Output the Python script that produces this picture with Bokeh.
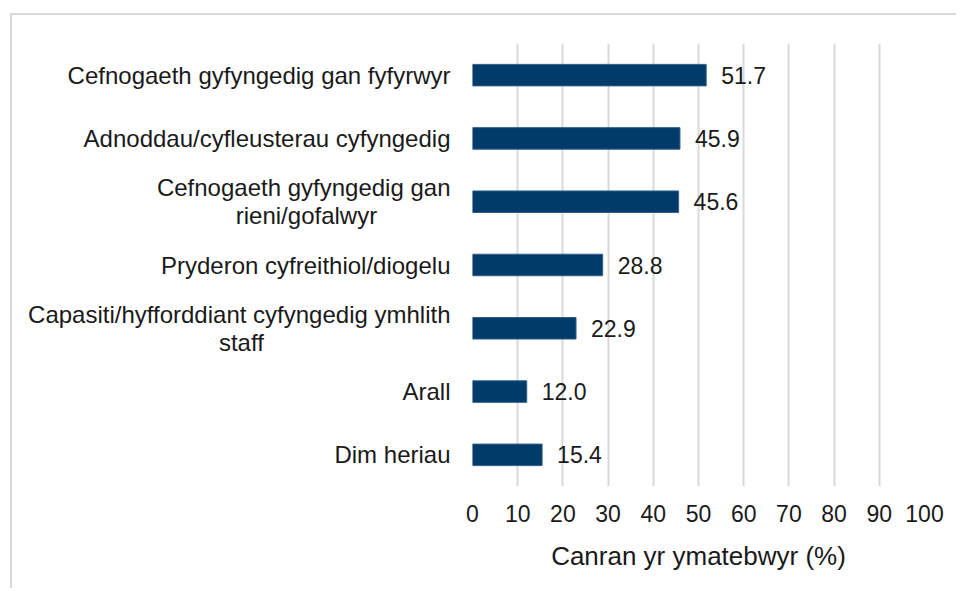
from bokeh.plotting import figure
from bokeh.models import ColumnDataSource, FactorRange, Range1d, FixedTicker
from bokeh.core.properties import value
from bokeh.embed import file_html
from bokeh.resources import INLINE

NB = "\u00a0"
categories = [
    "Cefnogaeth gyfyngedig gan fyfyrwyr",
    "Adnoddau/cyfleusterau cyfyngedig",
    "Cefnogaeth gyfyngedig gan\nrieni/gofalwyr" + NB * 11,
    "Pryderon cyfreithiol/diogelu",
    "Capasiti/hyfforddiant cyfyngedig ymhlith\nstaff" + NB * 28,
    "Arall",
    "Dim heriau",
]
values = [51.7, 45.9, 45.6, 28.8, 22.9, 12.0, 15.4]
x_ticks = [0, 10, 20, 30, 40, 50, 60, 70, 80, 90, 100]
x_title = "Canran yr ymatebwyr (%)"

FONT = "Liberation Sans"
TXT = "#1a1a1a"
BAR = "#003B6A"
GRID = "#d9d9d9"

src = ColumnDataSource(dict(cat=categories, val=values,
                            lab=[f"{v:.1f}" for v in values]))

p = figure(
    width=946, height=575,
    y_range=FactorRange(factors=list(reversed(categories)), range_padding=0),
    x_range=Range1d(0, 100),
    output_backend="svg", toolbar_location=None,
    min_border_left=460, min_border_right=34,
    min_border_top=28, min_border_bottom=104,
)
p.styles = {"margin-left": "10px", "margin-top": "13px",
            "border-left": "2px solid #d9d9d9", "border-top": "2px solid #d9d9d9"}
p.outline_line_color = None

p.hbar(y="cat", right="val", left=0, height=0.34, source=src,
       fill_color=BAR, line_color="#2f5f8a", line_width=1)
p.text(x="val", y="cat", text="lab", source=src, x_offset=15,
       text_baseline="middle", text_align="left",
       text_font=value(FONT), text_font_size="23px", text_color=TXT)

p.xaxis.ticker = FixedTicker(ticks=x_ticks)
p.xaxis.axis_line_color = None
p.xaxis.major_tick_line_color = None
p.xaxis.minor_tick_line_color = None
p.xaxis.major_label_standoff = 12
p.xaxis.major_label_text_font = FONT
p.xaxis.major_label_text_font_size = "23px"
p.xaxis.major_label_text_color = TXT
p.xaxis.axis_label = x_title
p.xaxis.axis_label_standoff = 16
p.xaxis.axis_label_text_font = FONT
p.xaxis.axis_label_text_font_size = "26px"
p.xaxis.axis_label_text_font_style = "normal"
p.xaxis.axis_label_text_color = TXT

p.yaxis.axis_line_color = None
p.yaxis.major_tick_line_color = None
p.yaxis.minor_tick_line_color = None
p.yaxis.major_label_standoff = 16
p.yaxis.major_label_text_font = FONT
p.yaxis.major_label_text_font_size = "24px"
p.yaxis.major_label_text_line_height = 1.05
p.yaxis.major_label_text_color = TXT

p.xgrid.grid_line_color = GRID
p.xgrid.grid_line_width = 2
p.ygrid.grid_line_color = None

open("out.html", "w").write(file_html(p, INLINE))
